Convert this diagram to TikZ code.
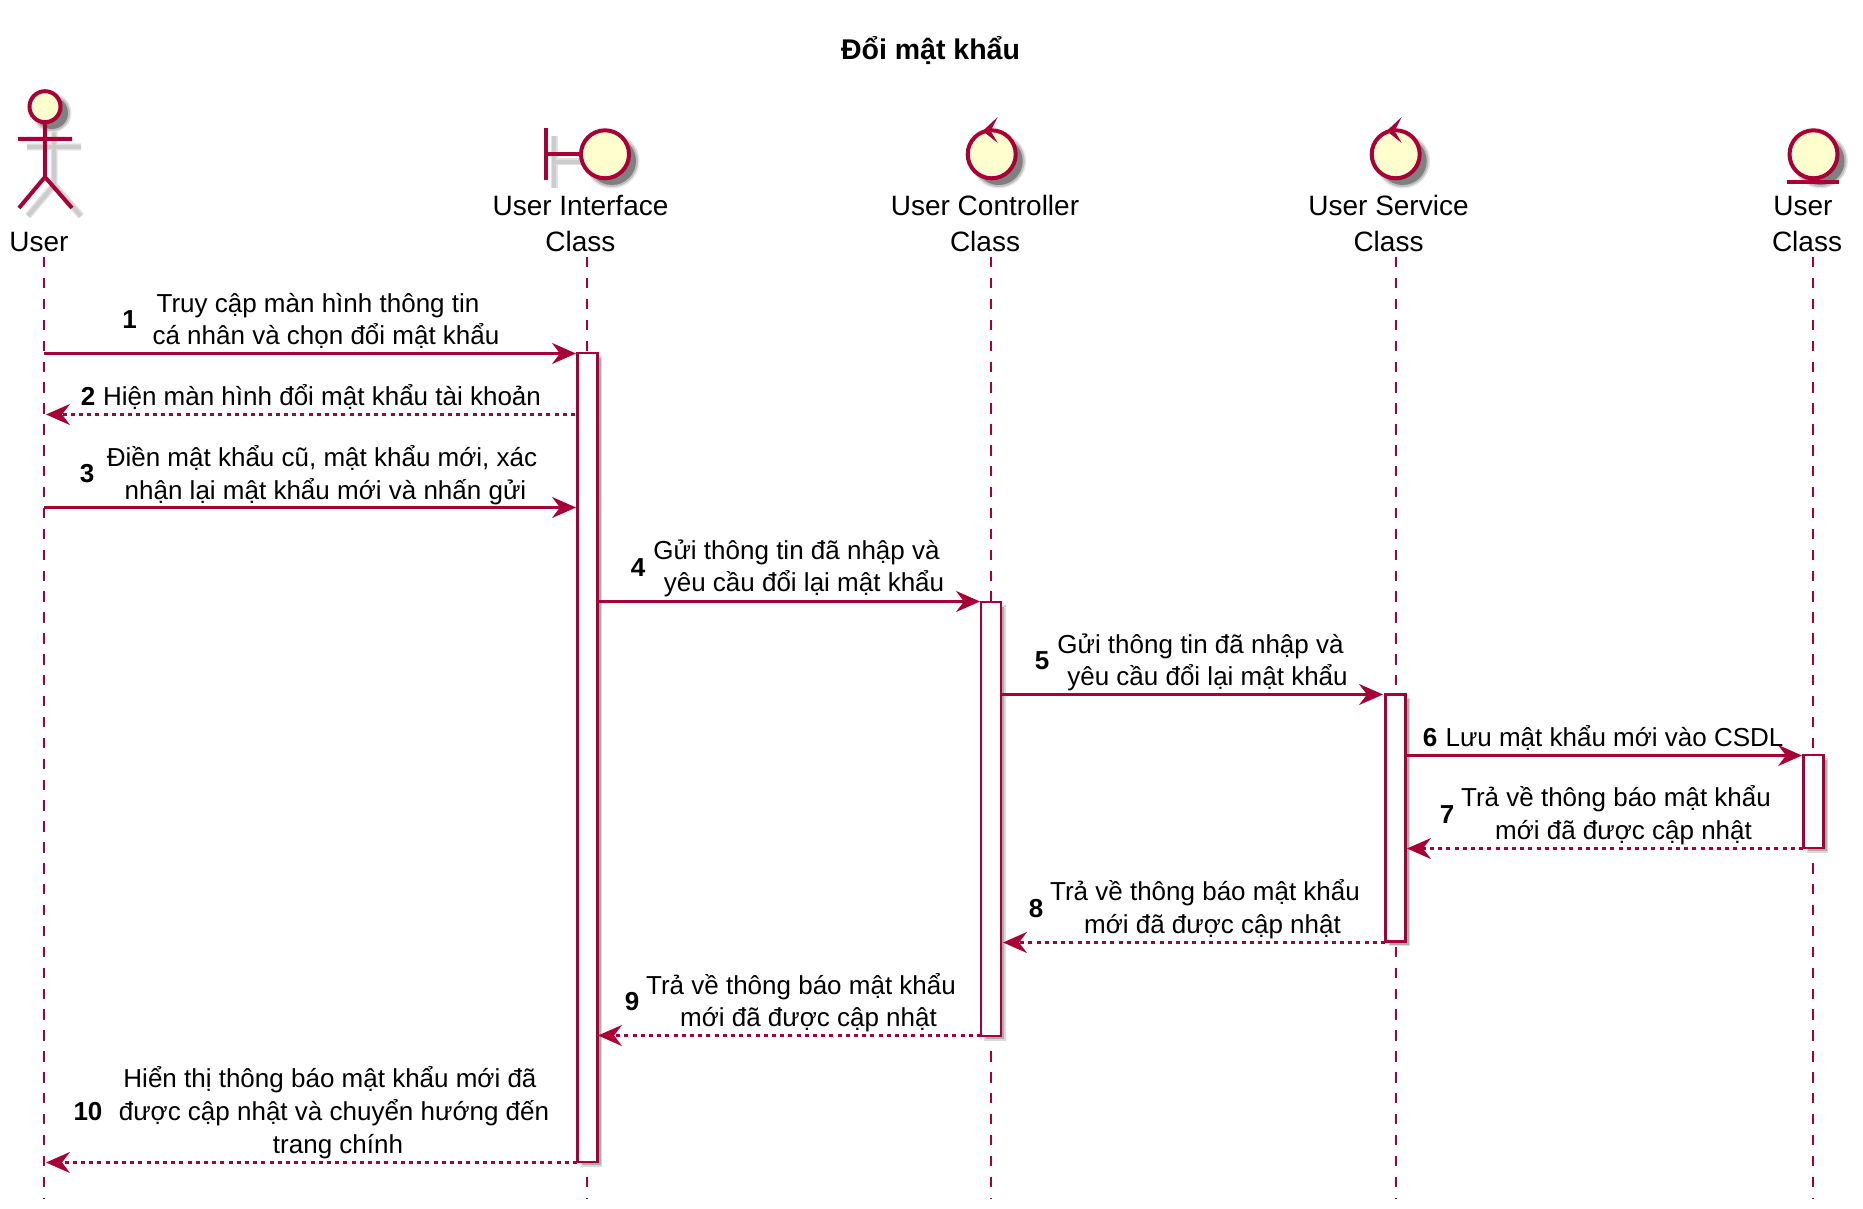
\documentclass[tikz,border=0pt]{standalone}
\usepackage{fontspec}
\setmainfont{Liberation Sans}
\usetikzlibrary{arrows.meta,shadows}
\definecolor{umlline}{HTML}{A80036}
\definecolor{umlfill}{HTML}{FEFECE}
\tikzset{
  lifeline/.style={umlline, line width=2pt, dash pattern=on 10.45pt off 10.45pt},
  msg/.style={umlline, line width=2.4pt, -{Stealth[length=24pt,width=21pt,inset=8pt]}},
  msgback/.style={msg, dash pattern=on 4.1pt off 4.1pt},
  actbox/.style={draw=umlline, fill=white, line width=2.8pt, inner sep=0pt, minimum width=20pt,
    drop shadow={shadow xshift=4pt, shadow yshift=-4pt, fill=gray!65, draw=gray!30, line width=1.5pt, opacity=1}},
  icon/.style={draw=umlline, line width=4pt, fill=umlfill},
  iconline/.style={draw=umlline, line width=4pt},
  lineshadow/.style={draw=black!12, line width=7pt},
  lineshadowin/.style={draw=black!20, line width=4pt},
  txt/.style={inner sep=0pt, anchor=base, font=\fontsize{28}{32}\selectfont},
  msgtxt/.style={txt, font=\fontsize{26}{32}\selectfont},
  num/.style={txt, font=\fontsize{26}{32}\selectfont\bfseries},
  titletxt/.style={inner sep=0pt, anchor=base, font=\fontsize{28.5}{32}\selectfont\bfseries}
}
\newcommand{\softdisc}[3]{
  \fill[black!10] (#1,#2) circle (#3+2.5);
  \fill[black!25] (#1,#2) circle (#3+1);
  \fill[black!50] (#1,#2) circle (#3-1);
}
\begin{document}
\begin{tikzpicture}[x=1pt,y=-1pt]
    \useasboundingbox (0,0) rectangle (1863,1209);

    % title
    \node[titletxt] (title) at (930.5,60) {Đổi mật khẩu};

    % lifelines
    \foreach \n/\x in {user/44,ui/587,ctl/991,svc/1395.5,ent/1812.5}{
      \coordinate (\n top) at (\x,257);
      \coordinate (\n bot) at (\x,1198);
      \draw[lifeline] (\n top) -- (\n bot);
    }

    % actor
    \foreach \st in {lineshadow,lineshadowin}
      \draw[\st] (54,125) -- (54,185) (27,147) -- (81,147) (28,216) -- (54,185) -- (81,216);
    \softdisc{52}{113}{17}
    \draw[icon] (45,106.7) circle (15.5);
    \draw[iconline] (45,122) -- (45,177) (18,139) -- (72,139) (19,208) -- (45,177) -- (72,208);

    % boundary
    \foreach \st in {lineshadow,lineshadowin}
      \draw[\st] (554,136) -- (554,188) (554,162) -- (588,162);
    \softdisc{612}{161}{25}
    \draw[iconline] (546.3,128) -- (546.3,180) (546.3,154.3) -- (581,154.3);
    \draw[icon] (605,154.3) circle (24);

    % controllers
    \foreach \x in {991.7,1395.7}{
      \softdisc{\x+7}{161}{25}
      \draw[icon] (\x,154.3) circle (24);
      \fill[umlline] (\x+6,117) -- (\x-9,131) -- (\x+6,143) -- (\x-1,131) -- cycle;
    }

    % entity
    \softdisc{1820.5}{161}{25}
    \draw[icon] (1813.5,154.3) circle (24);
    \draw[umlline, line width=4.5pt] (1787,182) -- (1839,182);

    % participant names
    \foreach \n/\x/\y/\t in {nuser/39/251.5/User,nuia/580.5/215/User Interface,nuib/580.5/251.5/Class,
      nctla/985/215/User Controller,nctlb/985/251.5/Class,nsvca/1388.5/215/User Service,nsvcb/1388.5/251.5/Class,
      nenta/1803/215/User,nentb/1807/251.5/Class}{
      \node[txt] (\n) at (\x,\y) {\t};
    }

    % activations
    \node[actbox, minimum height=809pt] (boxui) at (587.5,757.5) {};
    \node[actbox, minimum height=434pt] (boxctl) at (991,819) {};
    \node[actbox, minimum height=247pt] (boxsvc) at (1395.5,818) {};
    \node[actbox, minimum height=93pt] (boxent) at (1813.5,801.5) {};

    % messages
    \foreach \n/\xa/\xb/\y in {1/44/576/353.5,2/575/46/414.5,3/44/576/507.5,4/598/980/601.5,5/1002/1383/694.5,
      6/1406/1802/755.5,7/1803/1407/848.5,8/1385/1003/942.5,9/981/598/1035.5,10/577/46/1162.5}{
      \coordinate (a\n) at (\xa,\y);
      \coordinate (b\n) at (\xb,\y);
    }
    \foreach \n in {1,3,4,5,6} \draw[msg] (a\n) -- (b\n);
    \foreach \n in {2,7,8,9,10} \draw[msgback] (a\n) -- (b\n);

    % numbers
    \foreach \n/\x/\y in {1/129.5/318.5,2/88/396,3/87/473,4/638/567,5/1042/660,
      6/1430/737,7/1447/814,8/1036/908,9/632/1001,10/88/1111}{
      \node[num] (num\n) at (\x,\y+9.5) {\n};
    }

    % message texts
    \foreach \n/\x/\y/\t in {
      1a/318/303/Truy cập màn hình thông tin,
      1b/326/335/cá nhân và chọn đổi mật khẩu,
      2a/322/396/Hiện màn hình đổi mật khẩu tài khoản,
      3a/322/457/{Điền mật khẩu cũ, mật khẩu mới, xác},
      3b/325.5/489.5/nhận lại mật khẩu mới và nhấn gửi,
      4a/796.5/550/Gửi thông tin đã nhập và,
      4b/804/582/yêu cầu đổi lại mật khẩu,
      5a/1200.5/644/Gửi thông tin đã nhập và,
      5b/1207.5/676/yêu cầu đổi lại mật khẩu,
      6a/1614.5/737/Lưu mật khẩu mới vào CSDL,
      7a/1616/797/Trả về thông báo mật khẩu,
      7b/1623.5/830/mới đã được cập nhật,
      8a/1205/891/Trả về thông báo mật khẩu,
      8b/1212.5/924/mới đã được cập nhật,
      9a/801/985/Trả về thông báo mật khẩu,
      9b/808.5/1017/mới đã được cập nhật,
      10a/330/1078/Hiển thị thông báo mật khẩu mới đã,
      10b/334/1111/được cập nhật và chuyển hướng đến,
      10c/338/1143.5/trang chính}{
      \node[msgtxt] (msg\n) at (\x,\y+9.5) {\t};
    }
  \end{tikzpicture}
\end{document}
